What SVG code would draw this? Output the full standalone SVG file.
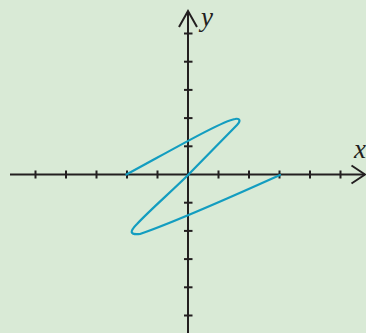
<svg xmlns="http://www.w3.org/2000/svg" width="366" height="333" viewBox="0 0 366 333">
<style>
.ax{stroke:#231f20;stroke-width:2;fill:none}
.tk{stroke:#231f20;stroke-width:2}
.cv{stroke:#139dc0;stroke-width:2.2;fill:none;stroke-linejoin:round;stroke-linecap:round}
.lb{font-family:"Liberation Serif",serif;font-style:italic;font-size:27px;fill:#231f20}
</style>
<rect width="366" height="333" fill="#d9ead6"/>
<g id="axes">
<line class="ax" x1="10" y1="174.5" x2="365" y2="174.5"/>
<line class="ax" x1="188" y1="11" x2="188" y2="333"/>
<polyline class="ax" points="351.5,165.5 365,174.5 351.5,183.5"/>
<polyline class="ax" points="179,27 188,11 197,27"/>
</g>
<g id="ticks">
<line class="tk" x1="35.5" y1="170.5" x2="35.5" y2="178.5"/>
<line class="tk" x1="66" y1="170.5" x2="66" y2="178.5"/>
<line class="tk" x1="96.5" y1="170.5" x2="96.5" y2="178.5"/>
<line class="tk" x1="127" y1="170.5" x2="127" y2="178.5"/>
<line class="tk" x1="157.5" y1="170.5" x2="157.5" y2="178.5"/>
<line class="tk" x1="218.5" y1="170.5" x2="218.5" y2="178.5"/>
<line class="tk" x1="249" y1="170.5" x2="249" y2="178.5"/>
<line class="tk" x1="279.5" y1="170.5" x2="279.5" y2="178.5"/>
<line class="tk" x1="310" y1="170.5" x2="310" y2="178.5"/>
<line class="tk" x1="340.5" y1="170.5" x2="340.5" y2="178.5"/>
<line class="tk" x1="184" y1="33.5" x2="192.5" y2="33.5"/>
<line class="tk" x1="184" y1="61.7" x2="192.5" y2="61.7"/>
<line class="tk" x1="184" y1="89.9" x2="192.5" y2="89.9"/>
<line class="tk" x1="184" y1="118.1" x2="192.5" y2="118.1"/>
<line class="tk" x1="184" y1="146.3" x2="192.5" y2="146.3"/>
<line class="tk" x1="184" y1="202.7" x2="192.5" y2="202.7"/>
<line class="tk" x1="184" y1="230.9" x2="192.5" y2="230.9"/>
<line class="tk" x1="184" y1="259.1" x2="192.5" y2="259.1"/>
<line class="tk" x1="184" y1="287.3" x2="192.5" y2="287.3"/>
<line class="tk" x1="184" y1="315.5" x2="192.5" y2="315.5"/>
</g>
<g id="curve">
<path class="cv" d="M126.5,174.5 C170,151 222,121 235,119 C240,118 241,121 237,125 C222,140.5 203,159.5 188,175 C172,191 150,210 137,224 C129,232 130,235 140,234 C175,222 240,193 280,175"/>
</g>
<g id="labels">
<text class="lb" x="201" y="26">y</text>
<text class="lb" x="354" y="158">x</text>
</g>
</svg>
